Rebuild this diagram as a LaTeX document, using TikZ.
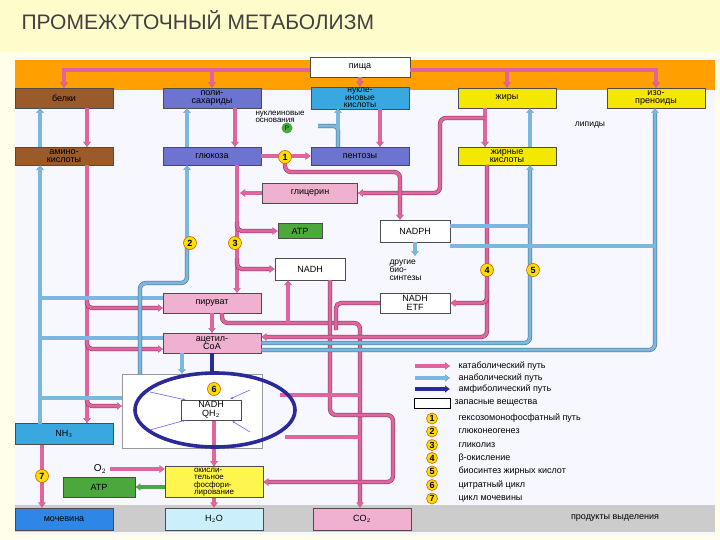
\documentclass[tikz,border=0pt]{standalone}
\usepackage{fontspec}
\setmainfont{Liberation Sans}
\usetikzlibrary{arrows.meta}
\definecolor{pk}{HTML}{E0649E}
\definecolor{bl}{HTML}{7AB8E0}
\definecolor{amph}{HTML}{2A2A9A}
\definecolor{brn}{HTML}{9B5A2A}
\definecolor{vio}{HTML}{6C74D0}
\definecolor{cyn}{HTML}{3AA8E0}
\definecolor{yel}{HTML}{F5E800}
\definecolor{pnk}{HTML}{F0B0D0}
\definecolor{grn}{HTML}{4CA83C}
\tikzset{
 box/.style={draw=black!70, line width=0.6pt, minimum width=98pt, minimum height=20pt, align=center, font=\fontsize{9}{8.5}\selectfont, inner sep=1pt},
 cat/.style={draw=pk, line width=3.2pt, -{Latex[length=5pt,width=8pt]}, preaction={draw=pk!55!black, line width=4.2pt}},
 catl/.style={draw=pk, line width=3.2pt, preaction={draw=pk!55!black, line width=4.2pt}},
 an/.style={draw=bl, line width=3.2pt, -{Latex[length=5pt,width=8pt]}, preaction={draw=bl!55!black, line width=4.2pt}},
 anl/.style={draw=bl, line width=3.2pt, preaction={draw=bl!55!black, line width=4.2pt}},
 am/.style={draw=amph, line width=3.6pt},
 num/.style={circle, draw=orange!80!black, fill=yellow!80!orange, line width=0.6pt, inner sep=0pt, minimum size=13pt, font=\fontsize{9}{9}\selectfont\bfseries},
 leg/.style={anchor=west, font=\fontsize{9}{9}\selectfont}
}
\begin{document}
\begin{tikzpicture}[x=1pt,y=-1pt]
\useasboundingbox (0,0) rectangle (720,540);
\fill[yellow!8] (0,0) rectangle (720,540);
\fill[yellow!20] (0,0) rectangle (720,52);
\node[anchor=west, text=black!75, font=\fontsize{21}{21}\selectfont] (title) at (18,20) {ПРОМЕЖУТОЧНЫЙ МЕТАБОЛИЗМ};
\fill[blue!3!white] (15,57) rectangle (715,535);
\fill[orange!75!yellow] (15,60) rectangle (715,90);
\fill[black!20] (15,505) rectangle (715,532);
% nodes
\node[box, fill=white, minimum width=100pt] (pisha) at (360,67) {пища};
\node[box, fill=brn] (belki) at (64,98) {белки};
\node[box, fill=vio] (poly) at (212,98) {поли-\\сахариды};
\node[box, fill=cyn, minimum height=22pt, font=\fontsize{8.5}{7.5}\selectfont] (nucl) at (360,98) {нукле-\\иновые\\кислоты};
\node[box, fill=yel] (fat) at (507,98) {жиры};
\node[box, fill=yel] (iso) at (656,98) {изо-\\преноиды};
\node[box, fill=brn, minimum height=18pt] (amino) at (64,156) {амино-\\кислоты};
\node[box, fill=vio, minimum height=18pt] (glu) at (212,156) {глюкоза};
\node[box, fill=vio, minimum height=18pt] (pent) at (360,156) {пентозы};
\node[box, fill=yel, minimum height=18pt] (fa) at (507,156) {жирные\\кислоты};
\node[box, fill=pnk, minimum width=95pt] (glyc) at (310,193) {глицерин};
\node[box, fill=grn, minimum width=44pt, minimum height=15pt] (atp) at (300,231) {ATP};
\node[box, fill=white, minimum width=70pt, minimum height=22pt] (nadph) at (415,231) {NADPH};
\node[box, fill=white, minimum width=70pt, minimum height=22pt] (nadh) at (310,269) {NADH};
\node[box, fill=pnk] (pyr) at (212,303) {пируват};
\node[box, fill=white, minimum width=70pt] (etf) at (415,303) {NADH\\ETF};
\node[box, fill=pnk] (acoa) at (212,343) {ацетил-\\CoA};
\node[box, fill=white, draw=black!40, minimum width=140pt, minimum height=74pt] (store) at (192,411) {};
\node[box, fill=cyn, minimum height=21pt] (nh3) at (64,434) {NH$_3$};
\node[box, fill=grn, minimum width=72pt] (atp2) at (99,487) {ATP};
\node[box, fill=yellow!70, minimum height=30pt, font=\fontsize{8}{7.5}\selectfont, align=left] (ox) at (214,482) {окисли-\\тельное\\фосфори-\\лирование};
\node[box, fill=cyn!80!blue, minimum height=22pt] (urea) at (64,519) {мочевина};
\node[box, fill=cyan!20, minimum height=22pt] (h2o) at (214,519) {H$_2$O};
\node[box, fill=pnk, minimum height=22pt] (co2) at (362,519) {CO$_2$};
% catabolic
\draw[cat] (310,70) -| (belki.north);
\draw[cat] (212,70) -- (poly.north);
\draw[cat] (pisha.south) -- (nucl.north);
\draw[cat] (410,70) -| (iso.north);
\draw[cat] (507,70) -- (fat.north);
\draw[cat] (87,108) -- (87,147);
\draw[cat] (235,108) -- (235,147);
\draw[cat] (380,109) -- (380,147);
\draw[cat] (485,108) -- (485,147);
\draw[cat, rounded corners=6pt] (485,118) -- (440,118) -- (440,193) -- (glyc.east);
\draw[cat] (glu.east) -- (pent.west);
\draw[cat, rounded corners=6pt] (285,157) -- (285,172) -- (400,172) -- (400,220);
\draw[cat] (glyc.west) -- (240,193);
\draw[cat] (237,165) -- (237,293);
\draw[cat, rounded corners=5pt] (237,222) |- (atp.west);
\draw[cat, rounded corners=5pt] (237,258) |- (nadh.west);
\draw[cat] (87,165) -- (nh3.north -| 87,0);
\draw[cat, rounded corners=5pt] (87,296) |- (163,308);
\draw[cat, rounded corners=5pt] (87,338) |- (163,349);
\draw[cat, rounded corners=5pt] (87,396) |- (122,406);
\draw[cat] (212,313) -- (212,333);
\draw[cat, rounded corners=6pt] (222,313) -- (222,323) -- (360,323) -- (co2.north -| 360,0);
\draw[cat] (288,323) -- (288,280);
\draw[cat, rounded corners=6pt] (330,280) -- (330,415) -- (393,415) -- (393,482) -- (ox.east);
\draw[cat, rounded corners=6pt] (487,165) -- (487,337) -- (acoa.east |- 0,337);
\draw[cat, rounded corners=5pt] (487,290) |- (etf.east);
\draw[catl, rounded corners=5pt] (etf.west) -- (336,303) -- (336,330);
\draw[catl] (280,395) -- (360,395);
\draw[catl] (285,437) -- (360,437);
\draw[cat] (214,420) -- (ox.north);
\draw[cat] (ox.south) -- (h2o.north);
\node[font=\fontsize{10}{10}\selectfont] (o2) at (100,469) {O$_2$};
\draw[cat] (o2.east) -- (ox.west |- o2.east);
\draw[draw=grn, line width=3.2pt, -{Latex[length=5pt,width=8pt]}] (ox.west |- atp2.east) -- (atp2.east);
\draw[cat] (nh3.south -| 42,0) -- (urea.north -| 42,0);
% anabolic
\draw[an] (40,424) -- (40,165);
\draw[an] (40,147) -- (40,108);
\draw[anl, rounded corners=5pt] (pyr.west |- 0,298) -- (40,298);
\draw[anl] (acoa.west |- 0,338) -- (40,338);
\draw[anl] (122,398) -- (40,398);
\draw[an] (187,250) -- (187,165);
\draw[an] (187,147) -- (187,108);
\draw[anl, rounded corners=6pt] (187,243) -- (187,283) -- (140,283) -- (140,374);
\draw[an] (182,353) -- (182,374);
\draw[anl, rounded corners=4pt] (338,147) -- (338,126) -- (318,126);
\draw[an] (338,130) -- (338,108);
\draw[an, rounded corners=6pt] (acoa.east |- 0,343) -- (530,343) -- (530,165);
\draw[an] (530,147) -- (530,108);
\draw[an, rounded corners=6pt] (acoa.east |- 0,350) -- (655,350) -- (655,108);
\draw[anl, rounded corners=5pt] (nadph.east |- 0,226) -- (530,226);
\draw[anl, rounded corners=5pt] (nadph.east |- 0,246) -- (655,246);
\draw[an] (nadph.south -| 415,0) -- (415,256);
% amphibolic
\draw[am] (acoa.south) -- (212,372);
\draw[am] (215,410) ellipse [x radius=80, y radius=37];
\node[box, fill=white, minimum width=60pt] (qh2) at (211,410) {NADH\\QH$_2$};
\foreach \a/\b in {{(150,392)}/{(186,400)}, {(250,390)}/{(230,399)}, {(150,430)}/{(186,420)}, {(250,432)}/{(232,421)}}
  \draw[blue!60, line width=0.6pt, -{Latex[length=3pt]}] \a -- \b;
% numbers
\node[num] (c1) at (285,157) {1};
\node[num] (c2) at (190,243) {2};
\node[num] (c3) at (235,243) {3};
\node[num] (c4) at (487,270) {4};
\node[num] (c5) at (533,270) {5};
\node[num] (c6) at (214,389) {6};
\node[num] (c7) at (42,476) {7};
\node[text=green!40!black, circle, fill=grn, inner sep=0pt, minimum size=11pt, font=\fontsize{7}{7}\selectfont\bfseries] (p) at (287,128) {P};
% texts
\node[align=left, font=\fontsize{8}{7.5}\selectfont] (osn) at (280,117) {нуклеиновые\\основания};
\node[font=\fontsize{8.5}{8.5}\selectfont] (lip) at (590,125) {липиды};
\node[align=left, anchor=north west, font=\fontsize{8.5}{8}\selectfont] (bios) at (386,256) {другие\\био-\\синтезы};
\node[font=\fontsize{9}{9}\selectfont] (prod) at (615,518) {продукты выделения};
% legend
\draw[cat] (415,366) -- (450,366); \node[leg] (l1) at (455,366) {катаболический путь};
\draw[an] (415,378) -- (450,378); \node[leg] (l2) at (455,378) {анаболический путь};
\draw[am, -{Latex[length=5pt,width=8pt]}] (415,389) -- (450,389); \node[leg] (l3) at (455,389) {амфиболический путь};
\draw[black, line width=1pt, fill=white] (414,398) rectangle (450,408); \node[leg] (l4) at (451,403) {запасные вещества};
\foreach \n/\y/\t in {1/418.5/гексозомонофосфатный путь, 2/431.5/глюконеогенез, 3/445/гликолиз, 4/458/β-окисление, 5/471.5/биосинтез жирных кислот, 6/485/цитратный цикл, 7/498.5/цикл мочевины} {
  \node[num, minimum size=11pt] (n\n) at (432,\y) {\n};
  \node[leg] (t\n) at (455,\y) {\t};
}
\end{tikzpicture}
\end{document}
